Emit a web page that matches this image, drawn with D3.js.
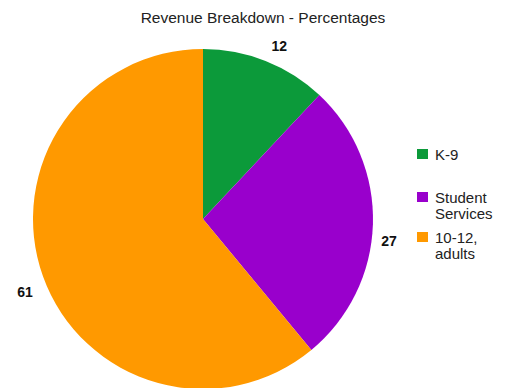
<!DOCTYPE html>
<html>
<head>
<meta charset="utf-8">
<script src="https://cdn.jsdelivr.net/npm/d3@7"></script>
<style>
  html, body { margin: 0; padding: 0; background: #fff; }
  svg { display: block; font-family: "Liberation Sans", Arial, sans-serif; }
</style>
</head>
<body>
<svg id="chart" width="506" height="388"></svg>
<script>
// Revenue shares, in percent
const categories = ["K-9", "Student Services", "10-12, adults"];
const legendLines = [["K-9"], ["Student", "Services"], ["10-12,", "adults"]];
const values = [12, 27, 61];
const colors = ["#0c9a3a", "#9900cc", "#ff9900"];

const W = 506, H = 388;
const cx = 203, cy = 219, R = 170;

const svg = d3.select("#chart");

svg.append("text")
  .attr("x", 263).attr("y", 23)
  .attr("text-anchor", "middle")
  .attr("font-size", 15.5)
  .attr("fill", "#222")
  .text("Revenue Breakdown - Percentages");

const pie = d3.pie().sort(null).value(d => d)(values);
const arc = d3.arc().innerRadius(0).outerRadius(R);
const labelArc = d3.arc().innerRadius(R + 18).outerRadius(R + 18);
// small per-label nudges so the value labels clear the rim
const nudge = [[7, 2], [-2, 16], [-1, 9]];

const g = svg.append("g").attr("transform", `translate(${cx},${cy})`);

g.selectAll("path.slice")
  .data(pie)
  .join("path")
  .attr("class", "slice")
  .attr("d", arc)
  .attr("fill", (d, i) => colors[i]);

g.selectAll("text.val")
  .data(pie)
  .join("text")
  .attr("class", "val")
  .attr("transform", (d, i) => {
    const [x, y] = labelArc.centroid(d);
    return `translate(${x + nudge[i][0]},${y + nudge[i][1]})`;
  })
  .attr("text-anchor", "middle")
  .attr("dy", "0.35em")
  .attr("font-size", 14)
  .attr("font-weight", "bold")
  .attr("fill", "#111")
  .text(d => d.data);

// Legend
const legendY = d3.scaleOrdinal().domain(categories).range([154, 197, 237]);
const leg = svg.append("g").selectAll("g")
  .data(categories)
  .join("g")
  .attr("transform", d => `translate(417,${legendY(d)})`);

leg.append("rect")
  .attr("x", 0).attr("y", -5)
  .attr("width", 11).attr("height", 10)
  .attr("fill", (d, i) => colors[i]);

leg.append("text")
  .attr("x", 18).attr("y", 5.5)
  .attr("font-size", 15)
  .attr("fill", "#222")
  .selectAll("tspan")
  .data((d, i) => legendLines[i])
  .join("tspan")
  .attr("x", 18)
  .attr("dy", (d, i) => i === 0 ? 0 : 16)
  .text(d => d);
</script>
</body>
</html>
